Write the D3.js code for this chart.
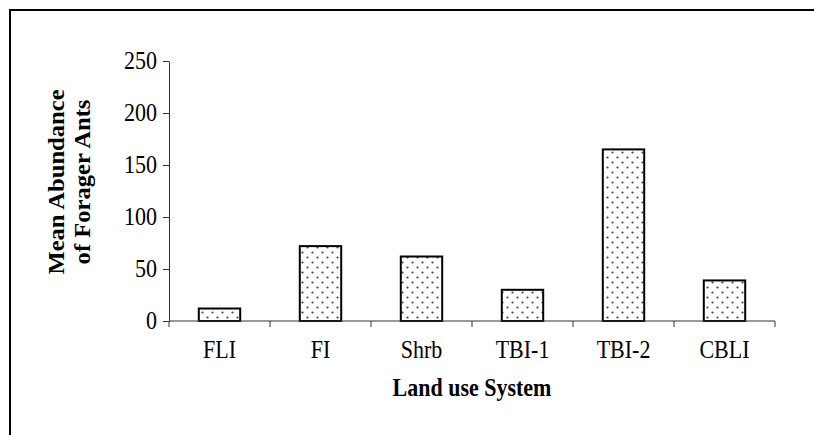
<!DOCTYPE html>
<html>
<head>
<meta charset="utf-8">
<script src="https://cdn.jsdelivr.net/npm/d3@7"></script>
<style>
  html, body { margin: 0; padding: 0; background: #fff; }
  svg { display: block; font-family: "Liberation Serif", "Times New Roman", serif; }
</style>
</head>
<body>
<div id="chart"></div>
<script>
var categories = ['FLI', 'FI', 'Shrb', 'TBI-1', 'TBI-2', 'CBLI'];
var abundance = [12, 72, 62, 30, 165, 39];
var yTicks = [0, 50, 100, 150, 200, 250];
var yTitle = ['Mean Abundance', 'of Forager Ants'];
var xTitle = 'Land use System';

function drawChart() {
    var width = 814, height = 435;
    var plot = { left: 169, right: 775, top: 61, bottom: 321 };

    var svg = d3.select('#chart').append('svg')
        .attr('width', width)
        .attr('height', height);

    // dotted fill
    var pat = svg.append('defs').append('pattern')
        .attr('id', 'dots')
        .attr('patternUnits', 'userSpaceOnUse')
        .attr('width', 10).attr('height', 10);
    pat.append('rect').attr('width', 10).attr('height', 10).attr('fill', '#fff');
    pat.append('circle').attr('cx', 2.5).attr('cy', 2.5).attr('r', 1.1).attr('fill', '#444');
    pat.append('circle').attr('cx', 7.5).attr('cy', 7.5).attr('r', 1.1).attr('fill', '#444');

    // outer frame (runs off the right/bottom edge)
    svg.append('rect')
        .attr('x', 10).attr('y', 10)
        .attr('width', 900).attr('height', 600)
        .attr('fill', 'none')
        .attr('stroke', '#000')
        .attr('stroke-width', 2);

    var x = d3.scaleBand()
        .domain(categories)
        .range([plot.left, plot.right])
        .padding(0);

    var y = d3.scaleLinear()
        .domain([0, 250])
        .range([plot.bottom, plot.top]);

    var barW = x.bandwidth() * 0.41;

    // Y axis
    var yAxis = svg.append('g')
        .attr('transform', 'translate(' + plot.left + ',0)')
        .call(d3.axisLeft(y).tickValues(yTicks).tickSize(6).tickSizeOuter(0).tickPadding(6));
    yAxis.select('.domain').attr('stroke', '#333');
    yAxis.selectAll('.tick line').attr('stroke', '#333');
    yAxis.selectAll('.tick text')
        .attr('fill', '#000')
        .attr('transform', 'scale(1,1.1)')
        .style('font-family', '"Liberation Serif", "Times New Roman", serif')
        .style('font-size', '22px');

    // bars
    svg.selectAll('rect.bar')
        .data(abundance)
        .enter()
        .append('rect')
        .attr('class', 'bar')
        .attr('x', function(d, i){ return x(categories[i]) + (x.bandwidth() - barW) / 2; })
        .attr('y', function(d){ return y(d); })
        .attr('width', barW)
        .attr('height', function(d){ return y(0) - y(d); })
        .attr('fill', 'url(#dots)')
        .attr('stroke', '#000')
        .attr('stroke-width', 2);

    // X axis line + boundary ticks
    svg.append('line')
        .attr('x1', plot.left).attr('x2', plot.right)
        .attr('y1', y(0)).attr('y2', y(0))
        .attr('stroke', '#333');
    var bounds = categories.map(function(c){ return x(c); }).concat([x.range()[1]]);
    svg.selectAll('line.xtick')
        .data(bounds)
        .enter()
        .append('line')
        .attr('class', 'xtick')
        .attr('x1', function(d){ return d; }).attr('x2', function(d){ return d; })
        .attr('y1', y(0)).attr('y2', y(0) + 6)
        .attr('stroke', '#333');

    // category labels
    svg.selectAll('text.xlab')
        .data(categories)
        .enter()
        .append('text')
        .attr('class', 'xlab')
        .attr('transform', function(d){ return 'translate(' + (x(d) + x.bandwidth() / 2) + ',358) scale(1,1.15)'; })
        .attr('text-anchor', 'middle')
        .style('font-size', '22px')
        .text(function(d){ return d; });

    // axis titles
    svg.append('text')
        .attr('transform', 'translate(' + ((plot.left + plot.right) / 2) + ',396) scale(1,1.12)')
        .attr('text-anchor', 'middle')
        .style('font-size', '22px')
        .style('font-weight', 'bold')
        .text(xTitle);

    var titleX = [64, 90];
    yTitle.forEach(function(t, i){
        svg.append('text')
            .attr('transform', 'translate(' + titleX[i] + ',182) rotate(-90) scale(1.07,1)')
            .attr('text-anchor', 'middle')
            .style('font-size', '23px')
            .style('font-weight', 'bold')
            .text(t);
    });
}

drawChart();
</script>
</body>
</html>
